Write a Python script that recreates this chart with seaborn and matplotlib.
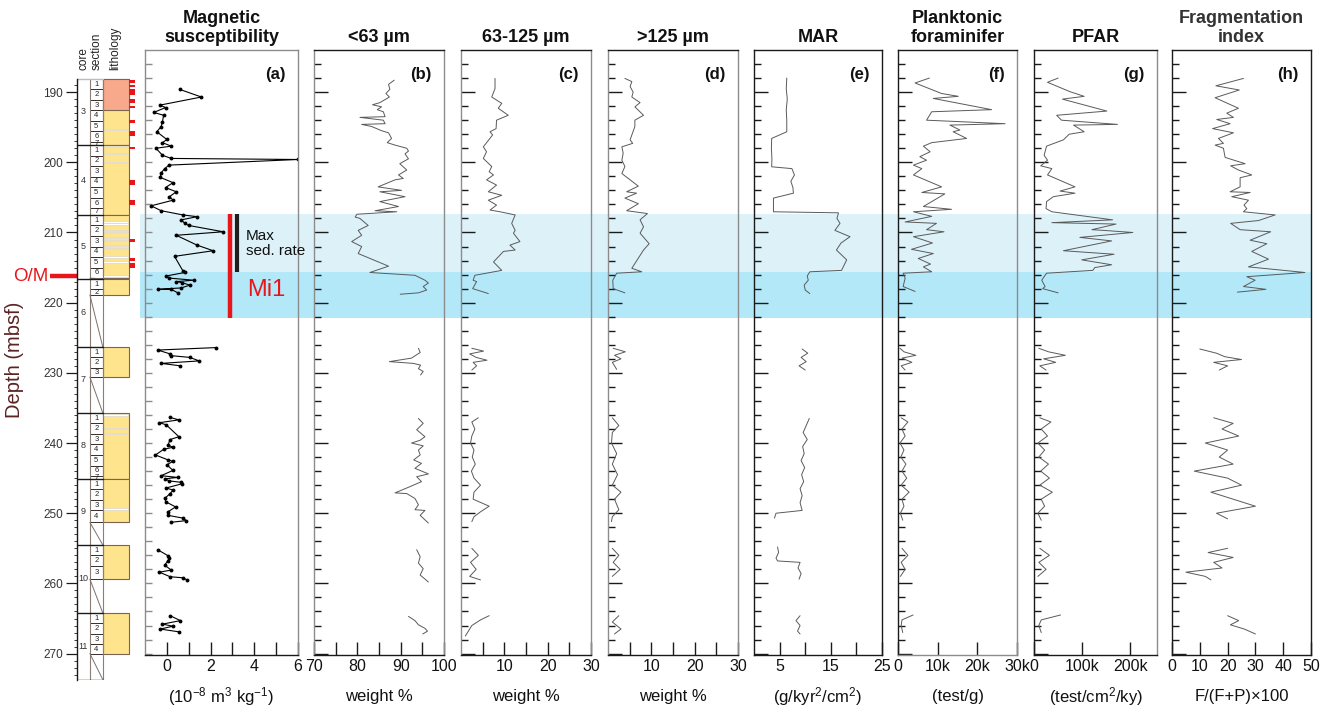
import numpy as np
import pandas as pd
import matplotlib
matplotlib.use("Agg")
import matplotlib.pyplot as plt
from matplotlib.patches import Rectangle
import seaborn as sns

# ---------------------------------------------------------------- data
# lithology / core description (depth in mbsf)
core_names = [3, 4, 5, 6, 7, 8, 9, 10, 11]
core_tops = [188.1, 197.55, 207.5, 216.6, 226.3, 235.7, 245.1, 254.5, 264.2]
core_bases = [197.55, 207.5, 216.5, 218.9, 230.6, 245.1, 251.3, 259.4, 270.0]
core_nsec = [7, 7, 6, 2, 3, 7, 4, 3, 4]
hole_bottom = 273.7
salmon_interval = (188.1, 192.6)
white_bands = [195.3, 197.8, 198.7, 200.0, 208.5, 208.8, 209.7, 210.0, 210.7, 211.1,
               211.9, 212.3, 213.5, 214.2, 216.2, 236.0, 237.9, 238.6, 249.4]
red_marks = [(188.3, 188.7), (189.0, 189.3), (189.6, 190.4), (191.0, 191.6), (192.0, 192.3),
             (194.0, 194.4), (195.6, 196.2), (197.8, 198.1), (202.5, 203.3), (205.4, 206.1),
             (210.9, 211.4), (213.6, 214.1), (214.4, 215.1)]
om_depth = 216.2
shade_bounds = [207.3, 215.7, 222.2]
gap_starts = [222.0, 233.0, 253.0, 262.0]

# (a) magnetic susceptibility (10^-8 m3/kg)
ms_depth = [189.6, 190.7, 191.85, 192.2, 192.9, 193.3, 194.2, 194.9, 195.65, 196.75, 197.2,
            197.7, 198.0, 199.0, 199.45, 199.6, 200.4, 200.9, 201.5, 202.15, 202.9, 203.6,
            204.2, 204.9, 205.4, 206.2, 206.9, 207.5, 207.75, 208.2, 208.7, 209.0, 209.9,
            210.4, 211.8, 212.6, 213.4, 215.5, 215.7, 216.2, 216.5, 216.8, 217.0, 217.15,
            217.5, 217.9, 218.1, 218.1, 218.6,
            226.4, 226.75, 227.3, 227.55, 227.8, 228.3, 228.65, 229.0,
            236.35, 236.7, 237.1, 237.4, 239.1, 239.5, 240.3, 240.6, 240.9, 241.7, 242.4,
            242.6, 243.1, 243.9, 244.65, 244.9, 245.1, 245.4, 245.6, 245.8, 246.4, 246.7,
            247.2, 247.9, 248.4, 249.1, 249.8, 250.3, 250.7, 251.05, 251.3,
            255.2, 256.05, 256.4, 256.75, 257.4, 258.1, 258.4, 259.05, 259.2, 259.5,
            264.6, 265.3, 265.8, 266.1, 266.5, 266.9]
ms_value = [0.58, 1.58, -0.31, -0.06, -0.6, -0.15, -0.2, -0.26, -0.46, 0.0, -0.2,
            0.2, -0.5, -0.2, 0.2, 6.0, 0.1, -0.1, -0.26, -0.3, 0.28, -0.06,
            0.43, 0.12, 0.28, -0.72, -0.26, 0.74, 1.38, 0.66, 0.82, 1.0, 2.58,
            0.43, 1.38, 2.12, 0.35, 0.74, 0.82, -0.03, 0.12, 1.23, 0.43, 0.7,
            1.05, 0.66, -0.42, 0.2, 0.5,
            2.25, -0.42, 0.15, 0.2, 1.05, 1.48, -0.26, 0.62,
            0.15, 0.55, -0.34, -0.03, 0.55, 0.15, 0.05, 0.28, -0.15, -0.52, 0.05,
            0.28, 0.0, 0.28, -0.26, 0.5, -0.1, 0.12, 0.66, 0.7, -0.03, 0.28,
            0.15, -0.1, -0.03, 0.4, 0.05, 0.05, 0.74, 0.89, 0.17,
            -0.42, 0.05, 0.12, 0.05, -0.1, 0.2, -0.34, 0.15, 0.74, 0.92,
            0.15, 0.62, -0.2, 0.28, -0.3, 0.55]

# (b) <63 um (weight %)
fine_depth = [188.3, 188.9, 189.6, 190.2, 190.7, 191.5, 191.8, 192.1, 192.5, 192.8, 193.5,
              193.6, 194.0, 194.5, 194.6, 194.9, 195.5, 195.8, 196.6, 197.2, 197.55, 198.0,
              198.4, 198.8, 199.5, 200.2, 201.1, 201.8, 202.3, 202.5, 203.5, 204.0, 204.2,
              204.9, 205.6, 206.3, 206.9, 207.05, 207.4, 207.8, 208.0, 209.0, 209.7, 210.4,
              211.3, 212.0, 213.0, 214.8, 215.7, 216.1, 216.8, 217.2, 217.7, 218.2, 218.6, 218.8,
              226.5, 227.1, 227.9, 228.4, 228.65, 228.9, 229.4, 229.8, 230.3,
              236.5, 237.2, 238.1, 239.1, 239.6, 240.0, 240.4, 241.0, 241.7, 242.4, 242.9,
              243.6, 244.4, 244.8, 245.5, 246.2, 247.1, 247.2, 247.9, 248.8, 249.5, 249.6,
              250.3, 251.4,
              255.2, 256.2, 257.1, 257.9, 258.8, 259.8,
              264.7, 265.3, 265.9, 266.4, 266.8, 267.2]
fine_value = [88.5, 87.2, 87.5, 86.6, 87.4, 85.2, 83.5, 85.6, 84.6, 86.0, 86.4,
              80.6, 86.0, 86.4, 81.0, 83.3, 85.6, 87.2, 87.9, 86.9, 88.7, 91.4,
              91.8, 91.0, 91.8, 89.8, 91.4, 89.5, 90.6, 88.7, 84.8, 90.2, 85.2,
              91.0, 85.2, 89.5, 84.1, 89.1, 79.9, 79.5, 80.6, 82.5, 80.2, 81.0,
              78.7, 81.0, 80.2, 87.2, 82.9, 93.3, 95.6, 96.4, 95.2, 96.0, 94.1, 89.9,
              94.1, 94.5, 92.5, 87.4, 92.9, 94.6, 94.1, 95.2, 94.6,
              94.1, 95.2, 93.7, 95.6, 94.5, 92.5, 95.2, 94.1, 94.5, 93.0, 94.8,
              93.3, 96.4, 93.7, 94.8, 92.2, 88.7, 91.4, 93.3, 94.1, 93.3, 95.6,
              94.5, 96.4,
              93.7, 94.5, 94.1, 95.2, 94.5, 96.4,
              91.8, 93.3, 94.1, 95.6, 96.2, 95.1]

# (c) 63-125 um (weight %)
mid_depth = [188.05, 189.5, 190.7, 191.6, 192.3, 193.3, 194.0, 195.2, 195.65, 196.1, 197.8,
             198.5, 199.45, 200.6, 201.35, 201.8, 202.5, 203.25, 204.2, 204.7, 205.4, 206.1,
             206.8, 207.05, 207.5, 208.7, 209.7, 210.1, 211.3, 211.8, 212.5, 212.7, 214.2,
             215.4, 216.1, 216.8, 217.0, 218.0, 218.7,
             226.5, 226.9, 227.3, 227.8, 228.2, 228.5, 229.0, 229.6,
             236.4, 237.0, 238.0, 239.0, 240.0, 241.0, 242.0, 243.0, 244.0, 245.0, 246.0,
             247.0, 248.0, 249.0, 249.8, 250.5, 251.2,
             255.0, 256.0, 257.0, 258.0, 259.0, 259.5,
             264.6, 265.2, 266.0, 267.0, 267.5]
mid_value = [7.85, 7.85, 7.1, 9.4, 8.6, 10.9, 8.2, 8.1, 6.7, 7.3, 5.15,
             5.9, 5.15, 7.1, 6.5, 7.5, 5.9, 8.2, 6.3, 9.4, 6.3, 8.2,
             6.7, 9.0, 12.5, 11.7, 12.5, 12.1, 13.6, 11.3, 12.5, 9.8, 7.5,
             9.4, 3.2, 2.8, 3.6, 2.7, 6.3,
             2.5, 5.2, 2.0, 3.5, 6.0, 2.8, 3.6, 2.5,
             4.0, 2.5, 3.2, 2.5, 2.2, 3.0, 2.6, 3.3, 2.4, 3.0, 4.5,
             3.0, 2.8, 6.5, 4.5, 3.0, 2.5,
             2.5, 4.0, 2.2, 3.5, 2.0, 4.5,
             6.5, 4.5, 2.5, 1.5, 1.0]

# (d) >125 um (weight %)
coarse_depth = [188.05, 188.5, 189.2, 190.0, 190.7, 191.5, 192.1, 193.3, 194.0, 194.9, 196.8,
                197.3, 197.8, 198.7, 199.7, 200.6, 201.6, 203.4, 204.2, 204.4, 205.1, 205.9,
                206.6, 206.9, 207.3, 208.2, 209.2, 210.1, 211.6, 212.5, 215.1, 215.6, 215.8,
                216.8, 218.0, 218.6,
                226.5, 227.0, 227.5, 228.0, 228.5, 229.5,
                236.4, 237.5, 238.5, 240.0, 241.5, 243.0, 244.5, 246.0, 247.0, 248.0, 249.5,
                250.5, 251.2,
                255.0, 256.0, 257.0, 258.0, 259.0,
                264.6, 265.5, 266.5, 267.2]
coarse_value = [3.9, 5.5, 5.1, 5.8, 5.5, 7.4, 6.2, 8.2, 6.2, 6.2, 5.1,
                5.7, 3.2, 3.5, 3.2, 3.9, 3.2, 7.0, 4.3, 6.6, 3.9, 7.0,
                5.1, 4.3, 9.1, 7.4, 8.2, 7.4, 9.5, 8.2, 5.5, 7.8, 2.0,
                1.1, 1.2, 3.9,
                1.2, 4.0, 1.5, 3.0, 1.0, 2.0,
                1.0, 2.5, 1.0, 0.8, 2.0, 1.0, 2.2, 1.0, 3.0, 1.5, 2.5,
                1.0, 0.8,
                1.0, 2.5, 1.2, 2.8, 1.0,
                2.5, 1.0, 3.0, 1.5]

# (e) MAR (g/kyr2/cm2)
mar_depth = [188.0, 189.5, 191.0, 192.5, 194.0, 195.65, 196.6, 198.0, 199.5, 200.64, 200.9,
             201.8, 202.7, 203.6, 204.4, 205.1, 206.0, 207.05, 207.2, 208.0, 208.7, 209.7,
             210.6, 211.5, 212.5, 213.9, 215.4, 215.6, 216.2, 216.8, 217.5, 218.2, 218.7,
             226.6, 227.2, 227.8, 228.4, 229.0, 229.6,
             236.5, 237.5, 238.5, 239.5, 240.5, 241.5, 242.5, 243.5, 244.5, 245.5, 246.5,
             247.5, 248.5, 249.6, 250.0, 250.7,
             254.8, 255.6, 256.4, 256.8, 257.0, 257.8, 258.6, 259.4,
             264.6, 265.3, 266.0, 266.8, 267.2]
mar_value = [6.4, 6.3, 6.5, 6.3, 6.4, 6.4, 3.45, 3.4, 3.5, 3.45, 7.4,
             7.9, 7.2, 7.6, 7.7, 3.8, 3.8, 3.8, 16.5, 16.2, 16.8, 15.8,
             18.75, 17.0, 16.1, 18.1, 17.1, 10.9, 10.4, 10.6, 9.8, 10.0, 10.9,
             9.4, 10.5, 9.2, 10.2, 8.8, 10.0,
             10.8, 10.2, 9.6, 10.4, 9.5, 9.8, 9.2, 9.9, 9.3, 9.7, 9.0,
             9.4, 9.0, 9.4, 4.3, 4.0,
             4.6, 4.8, 4.3, 4.6, 9.0, 8.6, 9.2, 8.8,
             9.0, 8.2, 9.0, 8.5, 9.0]

# (f) planktonic foraminifer (10^3 test/g)
pf_depth = [188.0, 188.7, 190.2, 190.6, 190.9, 192.5, 192.8, 194.0, 194.5, 194.7, 195.4,
            195.65, 196.6, 197.2, 197.7, 198.5, 199.2, 199.7, 200.4, 200.9, 201.8, 203.5,
            204.3, 204.5, 206.3, 206.7, 207.05, 207.7, 208.5, 208.7, 209.6, 209.9, 210.6,
            211.5, 212.4, 213.0, 213.7, 214.5, 214.9, 215.6, 215.8, 216.5, 217.7, 218.4,
            226.5, 227.0, 227.5, 227.9, 228.5, 229.0, 229.6,
            236.4, 237.0, 238.0, 239.0, 240.0, 241.0, 242.0, 243.0, 244.0, 245.0, 246.0,
            247.0, 248.0, 249.0, 250.0, 251.0,
            255.0, 256.0, 257.0, 258.0, 259.0,
            264.5, 265.2, 266.0, 267.0]
pf_kilo = [7.9, 4.3, 11.0, 15.2, 8.9, 23.6, 8.5, 7.2, 27.0, 13.1, 15.6,
           13.9, 17.3, 8.5, 6.4, 8.1, 5.5, 7.2, 3.9, 6.0, 3.9, 11.0,
           6.0, 11.8, 6.4, 13.5, 3.9, 8.5, 1.8, 9.7, 7.2, 11.6, 3.9,
           8.7, 3.4, 8.9, 5.1, 8.2, 6.4, 8.5, 1.3, 1.8, 1.3, 4.3,
           0.5, 1.5, 4.5, 1.0, 3.5, 0.8, 1.8,
           0.8, 2.5, 1.0, 1.8, 0.5, 1.5, 0.7, 2.0, 1.0, 2.2, 0.8,
           2.8, 1.0, 1.5, 0.6, 1.2,
           1.0, 2.5, 0.8, 1.8, 0.6,
           3.8, 1.0, 0.8, 1.2]

# (g) PFAR (10^3 test/cm2/ky)
pfar_depth = [188.0, 188.6, 189.95, 190.6, 191.0, 192.7, 193.3, 194.0, 194.6, 194.7, 195.65,
              196.0, 196.8, 197.7, 199.0, 199.7, 200.5, 200.9, 201.8, 203.5, 204.1, 204.4,
              204.9, 205.6, 206.6, 207.05, 208.2, 208.6, 208.8, 209.6, 209.7, 210.0, 210.7,
              211.2, 212.6, 213.1, 213.9, 214.6, 215.0, 215.4, 215.8, 216.8, 217.7, 218.0, 218.6,
              226.5, 227.0, 227.5, 228.0, 228.5, 229.0, 229.6,
              236.4, 237.0, 238.0, 239.0, 240.0, 241.0, 242.0, 243.0, 244.0, 245.0, 246.0,
              247.0, 248.0, 249.0, 250.0, 251.0,
              255.0, 256.0, 257.0, 258.0, 259.0,
              264.5, 265.2, 266.0, 267.0]
pfar_kilo = [50, 28, 75, 104, 59, 151, 47, 57, 173, 82, 104,
             73, 61, 26, 21, 28, 14, 37, 28, 85, 54, 85,
             40, 26, 25, 37, 163, 37, 170, 120, 144, 205, 95,
             161, 61, 166, 99, 161, 126, 122, 26, 16, 23, 18, 50,
             10, 30, 65, 20, 45, 12, 25,
             12, 35, 15, 28, 8, 22, 10, 30, 14, 32, 12,
             38, 15, 22, 8, 15,
             12, 32, 10, 25, 8,
             55, 15, 10, 15]

# (h) fragmentation index F/(F+P)x100
frag_depth = [188.05, 189.1, 189.7, 190.8, 192.3, 193.0, 193.6, 193.9, 194.5, 195.2, 195.8,
              196.6, 197.3, 197.55, 198.0, 199.3, 200.2, 200.5, 201.1, 201.8, 202.2, 203.5,
              204.2, 204.3, 204.9, 205.4, 206.1, 206.6, 207.05, 207.5, 208.3, 208.7, 209.6,
              209.9, 211.1, 211.6, 212.7, 213.8, 214.9, 215.7, 216.3, 216.8, 217.7, 218.1, 218.5,
              226.6, 227.2, 227.7, 228.1, 228.5, 229.0, 229.6,
              236.4, 237.2, 238.0, 239.0, 240.0, 241.0, 242.0, 243.0, 244.0, 245.0, 246.0,
              247.0, 248.0, 249.0, 250.0, 250.8,
              255.0, 255.6, 256.3, 257.0, 257.8, 258.4, 259.0, 259.5,
              264.6, 265.3, 265.9, 266.5, 267.2]
frag_value = [25.7, 15.8, 24.2, 15.5, 23.9, 19.7, 22.1, 16.1, 20.9, 14.6, 22.1,
              16.7, 18.5, 15.5, 18.5, 19.1, 26.3, 21.1, 23.9, 28.7, 24.5, 24.5,
              20.9, 28.1, 21.5, 27.5, 25.9, 26.9, 25.7, 37.1, 31.1, 21.1, 24.5,
              35.5, 28.1, 34.1, 28.7, 34.7, 27.5, 47.8, 26.9, 29.9, 25.7, 33.8, 23.5,
              10, 16, 19, 25, 15, 20, 17,
              15, 22, 18, 24, 12, 20, 17, 22, 8, 20, 25,
              14, 22, 30, 16, 20,
              20, 13, 22, 15, 18, 5, 12, 14,
              20, 24, 21, 26, 30]

panel_titles = ["Magnetic\nsusceptibility", "<63 \u00b5m", "63-125 \u00b5m", ">125 \u00b5m", "MAR",
                "Planktonic\nforaminifer", "PFAR", "Fragmentation\nindex"]
panel_units = [r"(10$^{-8}$ m$^{3}$ kg$^{-1}$)", "weight %", "weight %", "weight %",
               r"(g/kyr$^{2}$/cm$^{2}$)", "(test/g)", r"(test/cm$^{2}$/ky)", "F/(F+P)\u00d7100"]
panel_letters = ["(a)", "(b)", "(c)", "(d)", "(e)", "(f)", "(g)", "(h)"]
x_limits = [(-1, 6), (70, 100), (0, 30), (0, 30), (0, 25), (0, 30), (0, 255), (0, 50)]
x_ticks = [[0, 1, 2, 3, 4, 5, 6], [70, 75, 80, 85, 90, 95, 100], [5, 10, 15, 20, 25, 30],
           [5, 10, 15, 20, 25, 30], [5, 10, 15, 20, 25], [0, 10, 20, 30], [0, 100, 200],
           [0, 10, 20, 30, 40, 50]]
x_ticklabels = [["0", "", "2", "", "4", "", "6"], ["70", "", "80", "", "90", "", "100"],
                ["", "10", "", "20", "", "30"], ["", "10", "", "20", "", "30"],
                ["5", "", "15", "", "25"], ["0", "10k", "20k", "30k"], ["0", "100k", "200k"],
                ["0", "10", "20", "30", "40", "50"]]
series = [(ms_depth, ms_value), (fine_depth, fine_value), (mid_depth, mid_value),
          (coarse_depth, coarse_value), (mar_depth, mar_value), (pf_depth, pf_kilo),
          (pfar_depth, pfar_kilo), (frag_depth, frag_value)]

# ---------------------------------------------------------------- style
sns.set_theme(style="white")
plt.rcParams["font.family"] = ["Liberation Sans", "DejaVu Sans"]
plt.rcParams["mathtext.fontset"] = "custom"
plt.rcParams["mathtext.rm"] = "Liberation Sans"
plt.rcParams["mathtext.it"] = "Liberation Sans:italic"
plt.rcParams["mathtext.bf"] = "Liberation Sans:bold"

W, H = 1329, 711
fig = plt.figure(figsize=(W / 100, H / 100), dpi=100)


def fax(x0, x1, y0, y1):
    return [x0 / W, 1 - y1 / H, (x1 - x0) / W, (y1 - y0) / H]


TOP_D, BOT_D, BOT_L = 184.0, 270.2, 273.76
RED = "#e8161b"
GRAY = "#8c8c8c"
BLACK = "#1a1a1a"
LIGHT_BLUE = "#ddf1f9"
DARK_BLUE = "#b3e8f9"

# background shading
ax_bg = fig.add_axes(fax(140, 1312, 50, 655))
ax_bg.set_ylim(BOT_D, TOP_D)
ax_bg.axis("off")
ax_bg.axhspan(shade_bounds[0], shade_bounds[1], color=LIGHT_BLUE, lw=0)
ax_bg.axhspan(shade_bounds[1], shade_bounds[2], color=DARK_BLUE, lw=0)

# ---------------------------------------------------------------- lithology column
axl = fig.add_axes(fax(77, 135, 50, 680))
axl.set_facecolor("none")
axl.set_xlim(0, 4.5)
axl.set_ylim(BOT_L, TOP_D)
for s in ["top", "right", "bottom"]:
    axl.spines[s].set_visible(False)
axl.spines["left"].set_bounds(core_tops[0], hole_bottom)
axl.spines["left"].set_color(BLACK)
axl.spines["left"].set_linewidth(1.0)
axl.set_xticks([])
axl.set_yticks(np.arange(190, 271, 10))
axl.set_yticklabels([str(v) for v in range(190, 271, 10)])
axl.set_yticks(np.arange(189, 274, 1), minor=True)
axl.tick_params(axis="y", which="major", direction="out", length=8, width=0.9,
                labelsize=8.5, labelcolor="#333333", color=BLACK, pad=2, left=True)
axl.tick_params(axis="y", which="minor", direction="out", length=2.5, width=0.6,
                color=BLACK, left=True)

# column outlines
axl.plot([1, 1], [core_tops[0], hole_bottom], color="#8a7f76", lw=0.8)
axl.plot([2, 2], [core_tops[0], hole_bottom], color="#8a7f76", lw=0.8)
axl.plot([0, 2], [core_tops[0], core_tops[0]], color="#bbbbbb", lw=1.0)
axl.plot([0, 2], [hole_bottom, hole_bottom], color=BLACK, lw=1.0)

for i, (name, top, base, n) in enumerate(zip(core_names, core_tops, core_bases, core_nsec)):
    nxt = core_tops[i + 1] if i + 1 < len(core_tops) else hole_bottom
    if i > 0:
        axl.plot([0, 2], [top, top], color=BLACK, lw=1.0)
    axl.text(0.5, (top + nxt) / 2, str(name), ha="center", va="center", fontsize=6.5, color="#333333")
    # sections
    bounds = [top + 1.5 * k for k in range(n)] + [base]
    for k in range(n):
        axl.add_patch(Rectangle((1, bounds[k]), 1, bounds[k + 1] - bounds[k], facecolor="white",
                                edgecolor="#3a2f2a", lw=0.7))
        axl.text(1.5, (bounds[k] + bounds[k + 1]) / 2, str(k + 1), ha="center", va="center",
                 fontsize=5.5, color="#222222")
    # no-recovery diagonal
    if base < nxt - 0.05:
        axl.plot([1, 2], [base, nxt], color="#7d706a", lw=0.7)
    # lithology
    axl.add_patch(Rectangle((2, top), 2, base - top, facecolor="#ffe48e", edgecolor="#7b6450", lw=0.8))

axl.add_patch(Rectangle((2, salmon_interval[0]), 2, salmon_interval[1] - salmon_interval[0],
                        facecolor="#f8a98b", edgecolor="#7b6450", lw=0.8))
for d in white_bands:
    axl.add_patch(Rectangle((2.02, d - 0.09), 1.96, 0.18, facecolor="white", edgecolor="#cfcfcf", lw=0.4))
for d0, d1 in red_marks:
    axl.add_patch(Rectangle((4.05, d0), 0.45, d1 - d0, facecolor=RED, edgecolor="none", clip_on=False))

# column headers
for xc, lab in [(0.5, "core"), (1.5, "section"), (3.0, "lithology")]:
    axl.text(xc, 186.9, lab, rotation=90, ha="center", va="bottom", fontsize=8.5, color="#222222")

# O/M marker
axl.plot([-2.1, 0], [om_depth, om_depth], color=RED, lw=3.2, clip_on=False, solid_capstyle="butt")
axl.text(-2.25, om_depth, "O/M", color=RED, ha="right", va="center", fontsize=13.5, clip_on=False)

fig.text(15 / W, 1 - 360 / H, "Depth (mbsf)", rotation=90, ha="center", va="center",
         fontsize=14.5, color="#5c2323")

# ---------------------------------------------------------------- data panels
panel_px = [(145, 298), (314, 444), (461, 591), (608, 738), (754, 882), (898, 1017),
            (1034, 1157), (1172, 1311)]
left_spine_col = [GRAY, GRAY, GRAY, GRAY, BLACK, BLACK, BLACK, BLACK]
right_spine_col = [GRAY, GRAY, GRAY, GRAY, BLACK, GRAY, GRAY, BLACK]

for i, ((x0, x1), (dep, val)) in enumerate(zip(panel_px, series)):
    ax = fig.add_axes(fax(x0, x1, 50, 655))
    ax.set_facecolor("none")
    dep = np.asarray(dep, float)
    df = pd.DataFrame({"depth": dep, "value": np.asarray(val, float),
                       "seg": np.searchsorted(gap_starts, dep)})
    if i == 0:
        sns.lineplot(data=df, x="value", y="depth", units="seg", estimator=None, sort=False,
                     orient="y", color="black", lw=0.8, marker="o", markersize=2.8,
                     markeredgewidth=0, ax=ax, legend=False)
    else:
        sns.lineplot(data=df, x="value", y="depth", units="seg", estimator=None, sort=False,
                     orient="y", color="#5a5a5a", lw=0.7, ax=ax, legend=False)
    ax.set_xlim(*x_limits[i])
    ax.set_ylim(BOT_D, TOP_D)
    ax.set_xlabel("")
    ax.set_ylabel("")
    ax.set_xticks(x_ticks[i])
    ax.set_xticklabels(x_ticklabels[i])
    ax.set_yticks(np.arange(190, 271, 10))
    ax.set_yticks(np.arange(186, 270, 2), minor=True)
    ax.set_yticklabels([])
    ycol = GRAY if i == 0 else BLACK
    ax.tick_params(axis="y", which="major", direction="in", length=5 if i == 0 else 10,
                   width=1.0, color=ycol, left=True, right=False)
    ax.tick_params(axis="y", which="minor", direction="in", length=5, width=1.0, color=ycol,
                   left=True, right=False)
    ax.tick_params(axis="x", which="major", direction="in", length=9.5, width=1.0,
                   color=BLACK, bottom=True, top=False, labelsize=11.5, pad=3,
                   labelcolor="#111111")
    for s in ax.spines.values():
        s.set_linewidth(1.0)
    ax.spines["left"].set_color(left_spine_col[i])
    ax.spines["right"].set_color(right_spine_col[i])
    ax.spines["top"].set_color(left_spine_col[i] if i in (0,) else BLACK)
    ax.spines["bottom"].set_color(GRAY if i == 5 else BLACK)
    ax.grid(False)

    ax.annotate(panel_letters[i], xy=(1, 0.959), xycoords="axes fraction", xytext=(-9, 0),
                textcoords="offset points", ha="right", va="center", fontsize=12,
                fontweight="bold", color="#111111")
    xc = (x0 + x1) / 2 / W
    fig.text(xc, 1 - 46 / H, panel_titles[i], ha="center", va="bottom", fontsize=13,
             fontweight="bold", linespacing=1.12,
             color="#333333" if i == 7 else "#111111")
    fig.text(xc, 1 - 697 / H, panel_units[i], ha="center", va="center", fontsize=12,
             color="#111111")

    if i == 0:
        ax.plot([2.89, 2.89], [shade_bounds[0], shade_bounds[2]], color=RED, lw=3.2,
                solid_capstyle="butt")
        ax.plot([3.22, 3.22], [shade_bounds[0], shade_bounds[1]], color="#1e1e1e", lw=3.0,
                solid_capstyle="butt")
        ax.text(3.63, 211.6, "Max\nsed. rate", ha="left", va="center", fontsize=11,
                color="#111111", clip_on=False, linespacing=1.1)
        ax.text(3.67, 218.2, "Mi1", ha="left", va="center", fontsize=17, color=RED,
                clip_on=False)

fig.savefig("out.png", dpi=100)
